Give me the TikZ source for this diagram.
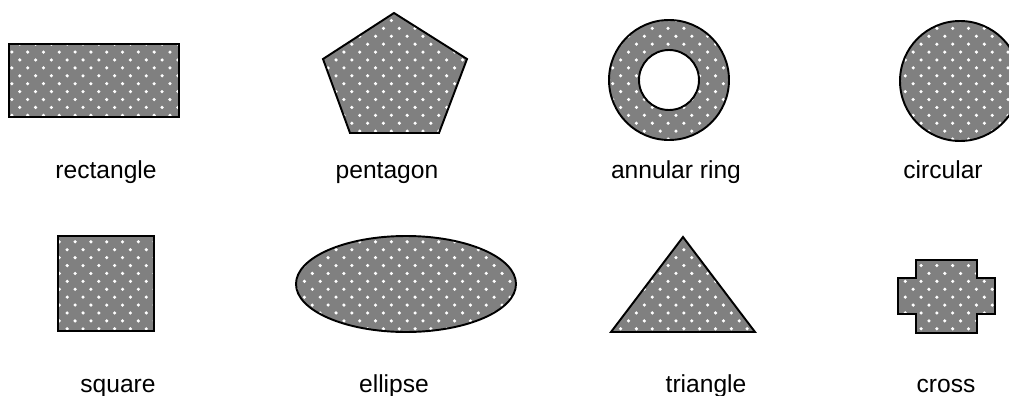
\documentclass[tikz,border=0pt]{standalone}
\usepackage{fontspec}
\setmainfont{Liberation Sans}
\usetikzlibrary{patterns}

% dotted mesh fill
\pgfdeclarepatternformonly{meshdots}{\pgfqpoint{-1pt}{-1pt}}{\pgfqpoint{10pt}{10pt}}{\pgfqpoint{9pt}{9pt}}{%
  \pgfpathcircle{\pgfqpoint{2.25pt}{2.25pt}}{1pt}%
  \pgfpathcircle{\pgfqpoint{6.75pt}{6.75pt}}{1pt}%
  \pgfusepath{fill}%
}

\begin{document}
\begin{tikzpicture}[
    x=0.02cm,
    y=-0.02cm,
    hatched/.style={draw,line width=1.1pt,preaction={fill=black!50},pattern=meshdots,pattern color=white},
    holed/.style={draw,line width=1.1pt,even odd rule,preaction={fill=black!50,even odd rule},pattern=meshdots,pattern color=white},
    caption/.style={font=\fontsize{14}{16}\selectfont,anchor=base}
]
\useasboundingbox (0,0) rectangle (1009,396);

% Rectangle
\draw[hatched] (9,44) rectangle (179,117);
\node[caption] (rectlabel) at (106,178) {rectangle};

% Pentagon
\draw[hatched] (394,13) -- (467,59) -- (439,133) -- (350,133) -- (323,59) -- cycle;
\node[caption] (pentlabel) at (387,178) {pentagon};

% Annular ring
\draw[holed] (669,80) circle[radius=60] (669,80) circle[radius=30];
\node[caption] (ringlabel) at (676,178) {annular ring};

% Circular
\draw[hatched] (960,81) circle[radius=60];
\node[caption] (circlabel) at (943,178) {circular};

% Square
\draw[hatched] (58,236) rectangle (154,331);
\node[caption] (sqlabel) at (118,392) {square};

% Ellipse
\draw[hatched] (406,284) ellipse[x radius=110,y radius=48];
\node[caption] (elllabel) at (394,392) {ellipse};

% Triangle
\draw[hatched] (683,237) -- (755,332) -- (611,332) -- cycle;
\node[caption] (trilabel) at (706,392) {triangle};

% Cross
\draw[hatched] (916,260) -- (977,260) -- (977,278) -- (995,278) -- (995,314) -- (977,314)
    -- (977,333) -- (916,333) -- (916,314) -- (898,314) -- (898,278) -- (916,278) -- cycle;
\node[caption] (crosslabel) at (946,392) {cross};

\end{tikzpicture}
\end{document}
